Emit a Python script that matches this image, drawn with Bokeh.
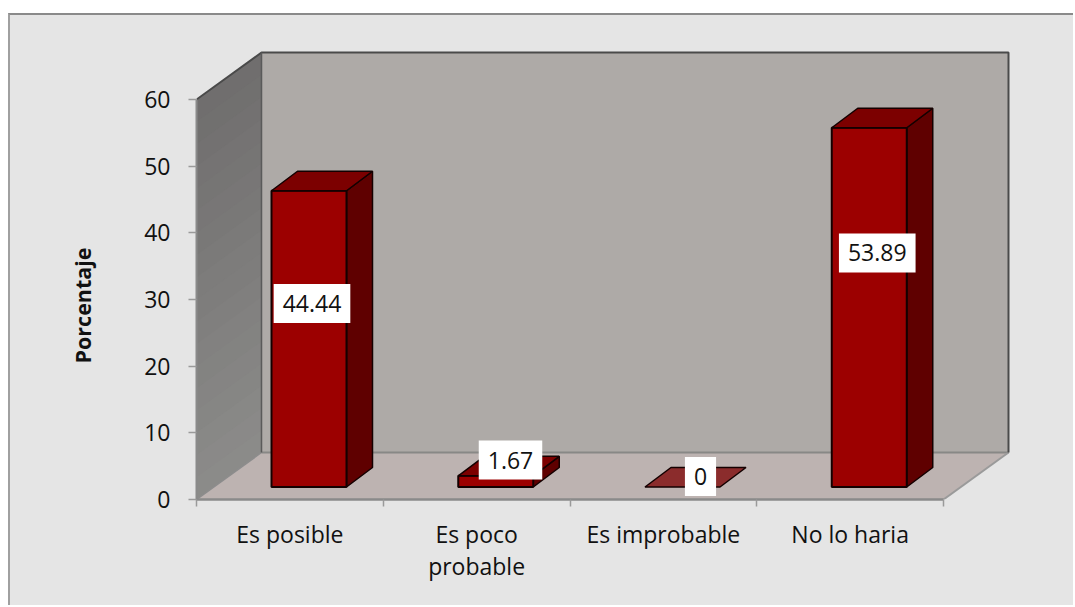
from bokeh.plotting import figure
from bokeh.models import LinearAxis, FixedTicker, ColumnDataSource, Range1d, Title
from bokeh.core.properties import value
from bokeh.embed import file_html
from bokeh.resources import INLINE

categories = ["Es posible", "Es poco\nprobable", "Es improbable", "No lo haria"]
percent = [44.44, 1.67, 0, 53.89]
percent_labels = ["44.44", "1.67", "0", "53.89"]
y_ticks = [0, 10, 20, 30, 40, 50, 60]
y_title = "Porcentaje"

# style / layout
FONT = "Open Sans"
W, H = 1065, 592
PX_X = 186.75      # px per category
PX_Y = 400 / 60    # px per value unit
FLOOR_DX, FLOOR_DY = 65 / PX_X, 47 / PX_Y
BAR_L, BAR_W = 75 / PX_X, 75 / PX_X
BAR_BASE = 12.5 / PX_Y
BAR_DX, BAR_DY = 26 / PX_X, 19.5 / PX_Y
label_dx_px = [3, 14.75, 18, 8]
label_dy_px = [-35.4, -21.4, -10.5, -54.4]

p = figure(width=W, height=H, output_backend="svg", toolbar_location=None,
           x_range=Range1d(0, 816 / PX_X), y_range=Range1d(0, 451 / PX_Y),
           x_axis_type=None, y_axis_type=None,
           min_border_left=186, min_border_right=63, min_border_top=33, min_border_bottom=108,
           background_fill_color="#e5e5e5", border_fill_color="#e5e5e5")
p.margin = (13, 0, 0, 8)
p.outline_line_color = None
p.grid.visible = False

ymax = y_ticks[-1]
n = len(categories)

# left wall with vertical shading
strips = 18
c0, c1 = (0x6f, 0x6d, 0x6d), (0x8c, 0x8c, 0x8a)
for k in range(strips):
    f0 = k / strips
    t = (k + .5) / strips
    col = "#%02x%02x%02x" % tuple(round(a + (b - a) * t) for a, b in zip(c0, c1))
    ya = ymax * (1 - f0)
    p.patch([0, FLOOR_DX, FLOOR_DX, 0], [ya, ya + FLOOR_DY, FLOOR_DY, 0],
            fill_color=col, line_color=None)

# back wall
p.patch([FLOOR_DX, n + FLOOR_DX, n + FLOOR_DX, FLOOR_DX],
        [FLOOR_DY, FLOOR_DY, ymax + FLOOR_DY, ymax + FLOOR_DY],
        fill_color="#aeaaa7", line_color=None)
# floor
p.patch([0, FLOOR_DX, n + FLOOR_DX, n], [0, FLOOR_DY, FLOOR_DY, 0],
        fill_color="#bdb3b1", line_color=None)
p.line([FLOOR_DX, n + FLOOR_DX], [FLOOR_DY, FLOOR_DY], line_color="#888886", line_width=2)
p.line([0, FLOOR_DX], [0, FLOOR_DY], line_color="#8c8c8c", line_width=1.5)
p.line([n, n + FLOOR_DX], [0, FLOOR_DY], line_color="#9a9a9a", line_width=2)
# wall edges
p.line([0, FLOOR_DX, n + FLOOR_DX, n + FLOOR_DX],
       [ymax, ymax + FLOOR_DY, ymax + FLOOR_DY, FLOOR_DY],
       line_color="#4a4a4a", line_width=2)
p.line([FLOOR_DX, FLOOR_DX], [ymax + FLOOR_DY, FLOOR_DY], line_color="#5a5a5a", line_width=1.5)

# bars
for i, v in enumerate(percent):
    l, r = i + BAR_L, i + BAR_L + BAR_W
    b, t = BAR_BASE, BAR_BASE + v
    if v > 0:
        p.patch([r, r + BAR_DX, r + BAR_DX, r], [b, b + BAR_DY, t + BAR_DY, t],
                fill_color="#5f0000", line_color="#140000", line_width=1.5)
        p.patch([l, r, r, l], [b, b, t, t], fill_color="#9c0000",
                line_color="#140000", line_width=2)
    top_col = "#7c0000" if v > 0 else "#8b2c2c"
    p.patch([l, r, r + BAR_DX, l + BAR_DX], [t, t, t + BAR_DY, t + BAR_DY],
            fill_color=top_col, line_color="#140000", line_width=1.5)

# data labels
src = ColumnDataSource(dict(
    x=[i + BAR_L + BAR_W / 2 for i in range(n)],
    y=[BAR_BASE + v / 2 for v in percent],
    t=percent_labels, dx=label_dx_px, dy=label_dy_px))
p.text("x", "y", text="t", source=src, x_offset="dx", y_offset="dy",
       text_align="center", text_baseline="middle", text_font=value(FONT),
       text_font_size="23px", text_color="#111111",
       background_fill_color="#ffffff", padding=[9, 11], level="overlay")

# axes
yax = LinearAxis(ticker=FixedTicker(ticks=y_ticks), bounds=(0, ymax))
yax.axis_line_color = "#8a8a8a"
yax.axis_line_width = 2
yax.major_tick_line_color = "#9a9a9a"
yax.major_tick_line_width = 1.5
yax.major_tick_in = 0
yax.major_tick_out = 8
yax.minor_tick_line_color = None
yax.major_label_standoff = 18
yax.major_label_text_font = FONT
yax.major_label_text_font_size = "23px"
yax.major_label_text_color = "#111111"
p.add_layout(yax, "left")

p.add_layout(Title(text=y_title, align="left", offset=136, standoff=89,
                   text_font=FONT, text_font_size="21.5px", text_font_style="bold",
                   text_color="#111111"), "left")

xax = LinearAxis(ticker=FixedTicker(ticks=[i + .5 for i in range(n)],
                                    minor_ticks=list(range(n + 1))),
                 bounds=(0, n))
xax.major_label_overrides = {i + .5: c for i, c in enumerate(categories)}
xax.axis_line_color = "#8a8a8a"
xax.axis_line_width = 2.5
xax.major_tick_line_color = None
xax.major_tick_in = 0
xax.major_tick_out = 8
xax.minor_tick_line_color = "#9a9a9a"
xax.minor_tick_line_width = 1.5
xax.minor_tick_in = 0
xax.minor_tick_out = 7
xax.major_label_standoff = 10
xax.major_label_text_font = FONT
xax.major_label_text_font_size = "23px"
xax.major_label_text_color = "#111111"
xax.major_label_text_line_height = 1.0
p.add_layout(xax, "below")

p.styles = {"border-top": "2px solid #8a8a8a", "border-left": "2px solid #a0a0a0",
            "background": "#e5e5e5"}

open("out.html", "w").write(file_html(p, INLINE))
